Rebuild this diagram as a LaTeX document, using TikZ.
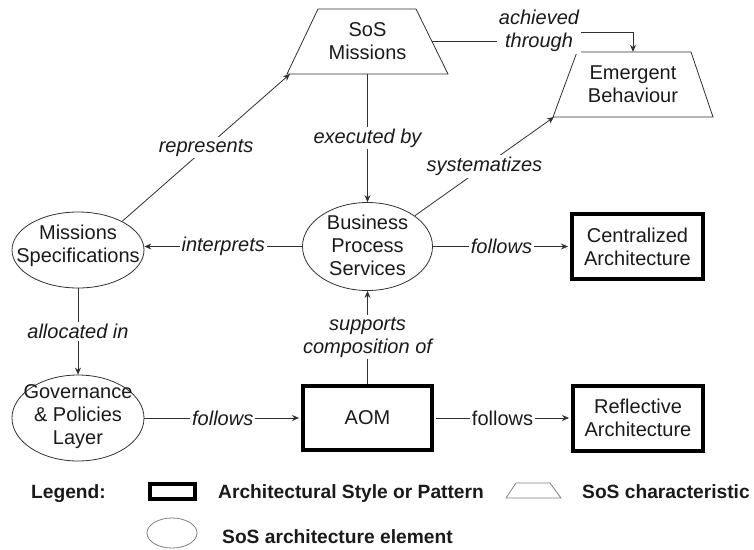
\documentclass[tikz,border=0pt]{standalone}
\usepackage{fontspec}
\setmainfont{Liberation Sans}
\usetikzlibrary{shapes.geometric,arrows.meta}

\definecolor{ink}{HTML}{1A1A1A}
\definecolor{edge}{HTML}{303030}
\definecolor{keyline}{HTML}{808080}

\begin{document}
\begin{tikzpicture}[x=1pt,y=-1pt,
  every node/.style={text=ink},
  nodefont/.style={font=\fontsize{20}{23}\selectfont},
  element/.style={ellipse, draw=edge, line width=0.8pt, inner sep=0pt},
  elemtext/.style={nodefont, align=center, inner sep=0pt},
  archstyle/.style={nodefont, rectangle, draw=black, line width=4pt, inner sep=0pt, align=center},
  trait/.style={draw=edge, line width=0.8pt, line join=miter},
  traittext/.style={nodefont, align=center, inner sep=0pt},
  rel/.style={draw=edge, line width=0.8pt, -{Stealth[length=7pt,width=6pt]}},
  lbl/.style={font=\fontsize{20}{23}\selectfont\itshape, fill=white, inner sep=2pt, align=center},
  lblup/.style={font=\fontsize{20}{23}\selectfont, fill=white, inner sep=2pt, align=center},
  legendtext/.style={font=\fontsize{19.2}{22}\selectfont\bfseries, inner sep=0pt},
]
\useasboundingbox (0,0) rectangle (754,549);

% SoS characteristics (trapezoids, wider at the base)
\draw[trait] (318,9) -- (416,9) -- (448,74) -- (287,74) -- cycle;
\node[traittext, minimum width=161pt, minimum height=65pt] (sos) at (367.5,41.5) {SoS\\Missions};
\coordinate (sos-e) at (432,41.5);
\coordinate (sos-bl) at (290,74);

\draw[trait] (577,52) -- (691,52) -- (713,117) -- (553,117) -- cycle;
\node[traittext, minimum width=160pt, minimum height=65pt] (eb) at (633,84.5) {Emergent\\Behaviour};
\coordinate (eb-bl) at (554,117);

% SoS architecture elements
\node[element, minimum width=132pt, minimum height=76pt] (ms) at (78,250) {};
\node[elemtext] (ms-t) at (78,246) {Missions\\Specifications};
\node[element, minimum width=130pt, minimum height=88pt] (bps) at (367.5,246.5) {};
\node[elemtext] (bps-t) at (367.5,245) {Business\\Process\\Services};
\node[element, minimum width=132pt, minimum height=86pt] (gov) at (78,418) {};
\node[elemtext] (gov-t) at (78,416.5) {Governance\\\& Policies\\Layer};

% Architectural styles / patterns
\node[archstyle, minimum width=131pt, minimum height=65pt] (cen) at (637.5,246.5) {Centralized\\Architecture};
\node[archstyle, minimum width=129pt, minimum height=64pt] (aom) at (367.5,418) {AOM};
\node[archstyle, minimum width=130pt, minimum height=65pt] (ref) at (638,418) {Reflective\\Architecture};

% Relations
\coordinate (jog) at (537,32);
\draw[rel] (sos-e) -- (sos-e -| jog) -- (jog) -| (eb.north);
\node[lbl] (l-ach) at (539,31) {achieved\\through};

\draw[rel] (sos.south) -- node[lbl] (l-exec) {executed by} (bps.north);
\draw[rel] (ms.33) -- node[lbl] (l-rep) {represents} (sos-bl);
\draw[rel] (bps.33) -- node[lbl] (l-sys) {systematizes} (eb-bl);
\draw[rel] (bps.west) -- node[lbl] (l-int) {interprets} (ms.east |- bps.west);
\draw[rel, shorten >=2pt] (bps.east) -- node[lbl] (l-fol1) {follows} (cen.west);
\draw[rel] (ms.south) -- node[lbl] (l-all) {allocated in} (gov.north);
\draw[rel] (aom.north) -- node[lbl] (l-sup) {supports\\composition of} (bps.south);
\draw[rel, shorten >=2pt] (gov.east) -- node[lbl] (l-fol2) {follows} (aom.west);
\draw[rel, shorten >=2pt, shorten <=2pt] (aom.east) -- node[lblup] (l-fol3) {follows} (ref.west);

% Legend
\node[legendtext, anchor=base east] (lg) at (106,498) {Legend:};
\node[draw=black, line width=4pt, minimum width=45pt, minimum height=15pt, inner sep=0pt] (lg-arch) at (172.5,491.5) {};
\node[legendtext, anchor=base west] (lg-arch-t) at (218,498) {Architectural Style or Pattern};
\draw[draw=keyline, line width=0.8pt] (516,483) -- (550,483) -- (561,498) -- (506,498) -- cycle;
\node[legendtext, anchor=base west] (lg-sos-t) at (582,498) {SoS characteristic};
\node[ellipse, draw=keyline, line width=0.8pt, inner sep=0pt,
      minimum width=50pt, minimum height=30pt] (lg-el) at (172,533) {};
\node[legendtext, anchor=base west] (lg-el-t) at (222,543) {SoS architecture element};
\end{tikzpicture}
\end{document}
